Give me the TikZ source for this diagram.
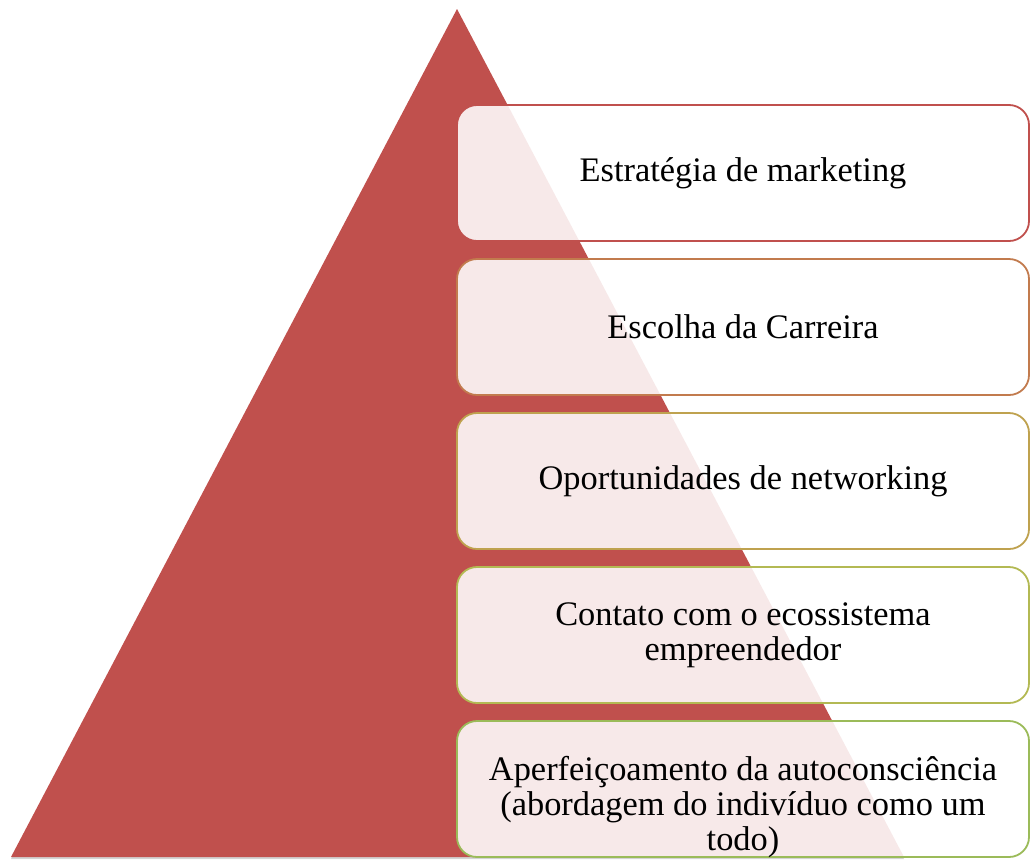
\documentclass[tikz,border=0pt]{standalone}
\usepackage{fontspec}
\setmainfont{Liberation Serif}
\usepackage{tikz}
\usetikzlibrary{shadows}
\definecolor{pyrred}{HTML}{C0504D}
\definecolor{lvlA}{HTML}{C0504D}
\definecolor{lvlB}{HTML}{C27B4E}
\definecolor{lvlC}{HTML}{BFA24F}
\definecolor{lvlD}{HTML}{B3B953}
\definecolor{lvlE}{HTML}{9BBB59}

\begin{document}
\begin{tikzpicture}[x=1pt,y=-1pt,
  box/.style={draw, line width=1.8pt, rounded corners=20pt, fill=white, fill opacity=0.88, text opacity=1,
              minimum width=572pt, minimum height=136pt, inner sep=0pt},
  lbl/.style={text width=520pt, align=flush center, font=\fontsize{34.4}{35}\selectfont}]
\useasboundingbox (0,0) rectangle (1030,860);
% pyramid
\fill[pyrred, drop shadow={shadow xshift=0pt, shadow yshift=-2pt, opacity=0.35}] (457,9) -- (904,857) -- (11,857) -- cycle;
% levels
\node[box, draw=lvlA] (b1) at (743,173) {};
\node[box, draw=lvlB] (b2) at (743,327) {};
\node[box, draw=lvlC] (b3) at (743,481) {};
\node[box, draw=lvlD] (b4) at (743,635) {};
\node[box, draw=lvlE] (b5) at (743,789) {};
\node[lbl] (t1) at (b1) {Estratégia de marketing};
\node[lbl] (t2) at (b2) {Escolha da Carreira};
\node[lbl] (t3) at (b3) {Oportunidades de networking};
\node[lbl] (t4) at (b4) {Contato com o ecossistema empreendedor};
\node[lbl] (t5) at (743,807) {Aperfeiçoamento da autoconsciência (abordagem do indivíduo como um todo)};
\end{tikzpicture}
\end{document}
